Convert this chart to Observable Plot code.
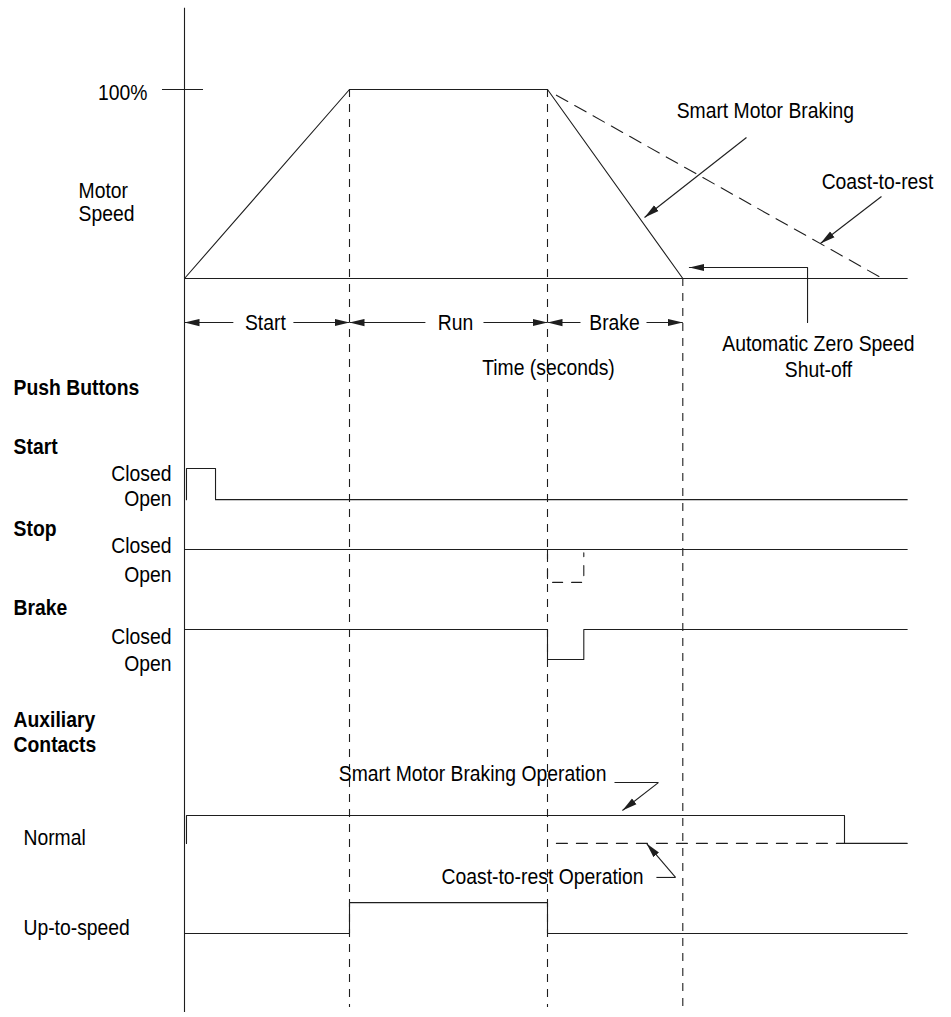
<!DOCTYPE html>
<html><head><meta charset="utf-8">
<script src="https://cdn.jsdelivr.net/npm/d3@7"></script>
<script src="https://cdn.jsdelivr.net/npm/@observablehq/plot@0.6"></script>
<style>
body{margin:0;background:#fff}
#chart svg text{font-family:"Liberation Sans",Arial,Helvetica,sans-serif}
</style></head><body><div id="chart"></div>
<script>
// ---------- DATA (time in "seconds", arbitrary units; speed in %) ----------
const phaseNames = ["Start", "Run", "Brake"];
const phaseBounds = [0, 5, 11, 15.1];     // start, up-to-speed, brake, zero speed
const tEnd = 21.9;

// Motor speed with Smart Motor Braking
const speedBraking = [{t: 0, v: 0}, {t: 5, v: 100}, {t: 11, v: 100}, {t: 15.1, v: 0}];
// Motor speed when coasting to rest
const speedCoast = [{t: 11.27, v: 97}, {t: 21.15, v: 0}];
const speedBase = [{t: 0, v: 0}, {t: tEnd, v: 0}];

// Push-button / contact states: 1 = closed (high), 0 = open (low)
const startButton   = [[0.06, 0], [0.06, 1], [0.94, 1], [0.94, 0], [tEnd, 0]];
const stopButton    = [[0, 1], [tEnd, 1]];
const stopButtonAlt = [[11, 1], [11, 0], [12.1, 0], [12.1, 0.9]];
const brakeButton   = [[0, 1], [11, 1], [11, 0], [12.1, 0], [12.1, 1], [tEnd, 1]];
const auxNormal     = [[0.06, 0], [0.06, 1], [20, 1], [20, 0], [tEnd, 0]];
const auxNormalCoast = [[11.27, 0], [20, 0]];
const auxUpToSpeed  = [[0, 0], [5, 0], [5, 1], [11, 1], [11, 0], [tEnd, 0]];

const tickLabel = "100%";
const stateLabels = ["Closed", "Open"];
const headings = ["Push Buttons", "Start", "Stop", "Brake", "Auxiliary\nContacts"];
const rowLabels = ["Normal", "Up-to-speed"];
const speedLabel = "Motor\nSpeed";

// ---------- LAYOUT (vertical lanes, in the y scale's units) ----------
const lanes = {
  start:  {lo: -117,  hi: -100.5},
  stop:   {lo: -160.8, hi: -143.4},
  brake:  {lo: -201.6, hi: -185.7},
  normal: {lo: -298.9, hi: -284.1},
  up:     {lo: -346.6, hi: -330.2}
};
const yTop = 143, yBottom = -388.4, yGuideBottom = -385.7, yPhase = -23.3;
const toPts = (arr, lane) => arr.map(([t, s]) => ({t, y: lane.lo + s * (lane.hi - lane.lo)}));

const ink = "#1e1e1e";
const SW = 1.1;
const lineOpt = {x: "t", y: "y", stroke: ink, strokeWidth: SW, curve: "linear"};

const headingPos = [-57.7, -88.9, -132.3, -174.1, -239.7];
const closedOpenPos = [[-103.2, -116.4], [-141.3, -156.6], [-189.4, -203.7]];
const rowLabelPos = [-295.8, -343.4];

const phaseLabels = phaseNames.map((n, i) => ({label: n, t: [2.45, 8.21, 13.03][i], y: yPhase}));
const phaseArrows = [
  {x1: 1.48, x2: phaseBounds[0]}, {x1: 3.3, x2: phaseBounds[1]},
  {x1: 7.3, x2: phaseBounds[1]}, {x1: 9.06, x2: phaseBounds[2]},
  {x1: 12.0, x2: phaseBounds[2]}, {x1: 14.0, x2: phaseBounds[3]}
].map(d => ({...d, y1: yPhase, y2: yPhase}));

const pointerArrows = [
  {x1: 17.03, y1: 74.6, x2: 13.94, y2: 32.3},     // Smart Motor Braking
  {x1: 21.12, y1: 43.4, x2: 19.27, y2: 18.5},     // Coast-to-rest
  {x1: 14.36, y1: -266.7, x2: 13.27, y2: -281.5}, // SMB operation
  {x1: 14.88, y1: -316.9, x2: 14.0, y2: -298.9}   // Coast operation
];
const leaderLines = [
  {x1: 13.03, y1: -266.7, x2: 14.36, y2: -266.7},
  {x1: 14.3, y1: -316.9, x2: 14.88, y2: -316.9}
];
const shutoffPath = [{t: 18.88, y: yPhase}, {t: 18.88, y: 5.8}, {t: 15.3, y: 5.8}];

const notes = [
  {label: "Smart Motor Braking", t: 17.6, y: 88.9},
  {label: "Coast-to-rest", t: 21.0, y: 51.3},
  {label: "Time (seconds)", t: 11.03, y: -47.1},
  {label: "Automatic Zero Speed", t: 19.21, y: -34.4},
  {label: "Shut-off", t: 19.21, y: -48.1},
  {label: "Smart Motor Braking Operation", t: 8.73, y: -261.9},
  {label: "Coast-to-rest Operation", t: 10.85, y: -316.4}
];

const FS = 22.5;
const txt = {fontSize: FS, fill: "#000"};

const plot = Plot.plot({
  width: 951, height: 1017, margin: 0,
  x: {domain: [0, 5], range: [184, 349], axis: null},
  y: {domain: [0, 100], range: [278, 89], axis: null},
  marks: [
    // vertical time axis and 100% tick
    Plot.ruleX([0], {y1: yTop, y2: yBottom, stroke: ink, strokeWidth: SW}),
    Plot.ruleY([100], {x1: -0.667, x2: 0.576, stroke: ink, strokeWidth: SW}),
    // phase guides
    Plot.ruleX(phaseBounds.slice(1), {x: d => d, y1: d => d === phaseBounds[3] ? 0 : 100, y2: yGuideBottom,
      stroke: ink, strokeWidth: SW, strokeDasharray: "8,7"}),
    // speed
    Plot.line(speedBase, {x: "t", y: "v", stroke: ink, strokeWidth: SW}),
    Plot.line(speedBraking, {x: "t", y: "v", stroke: ink, strokeWidth: SW}),
    Plot.line(speedCoast, {x: "t", y: "v", stroke: ink, strokeWidth: SW, strokeDasharray: "13,8"}),
    // signals
    Plot.line(toPts(startButton, lanes.start), lineOpt),
    Plot.line(toPts(stopButton, lanes.stop), lineOpt),
    Plot.line(toPts(stopButtonAlt, lanes.stop), {...lineOpt, strokeDasharray: "10,9"}),
    Plot.line(toPts(brakeButton, lanes.brake), lineOpt),
    Plot.line(toPts(auxNormal, lanes.normal), lineOpt),
    Plot.line(toPts(auxNormalCoast, lanes.normal), {...lineOpt, strokeDasharray: "11,9"}),
    Plot.line(toPts(auxUpToSpeed, lanes.up), lineOpt),
    // arrows
    Plot.link(phaseArrows, {x1: "x1", y1: "y1", x2: "x2", y2: "y2", stroke: ink, strokeWidth: SW, markerEnd: "arrow"}),
    Plot.link(pointerArrows, {x1: "x1", y1: "y1", x2: "x2", y2: "y2", stroke: ink, strokeWidth: SW, markerEnd: "arrow"}),
    Plot.link(leaderLines, {x1: "x1", y1: "y1", x2: "x2", y2: "y2", stroke: ink, strokeWidth: SW}),
    Plot.line(shutoffPath, {x: "t", y: "y", stroke: ink, strokeWidth: SW, markerEnd: "arrow"}),
    // texts
    Plot.text([tickLabel], {x: -1.12, y: 98.4, text: d => d, textAnchor: "end", ...txt}),
    Plot.text([speedLabel], {x: -3.21, y: 40.5, text: d => d, textAnchor: "start", lineHeight: 1.02, ...txt}),
    Plot.text(headings, {x: -5.18, y: (d, i) => headingPos[i], text: d => d, textAnchor: "start", fontWeight: "bold", lineHeight: 1.1, ...txt}),
    ...closedOpenPos.map(p => Plot.text(stateLabels, {x: -0.394, y: (d, i) => p[i], text: d => d, textAnchor: "end", ...txt})),
    Plot.text(rowLabels, {x: -4.88, y: (d, i) => rowLabelPos[i], text: d => d, textAnchor: "start", ...txt}),
    Plot.text(phaseLabels, {x: "t", y: "y", text: "label", ...txt}),
    Plot.text(notes, {x: "t", y: "y", text: "label", ...txt})
  ]
});

// filled arrowheads
plot.querySelectorAll("marker").forEach(m => {
  const color = m.getAttribute("stroke") || ink;
  m.setAttribute("viewBox", "-15 -4 16 8");
  m.setAttribute("markerWidth", 16);
  m.setAttribute("markerHeight", 8);
  m.setAttribute("markerUnits", "userSpaceOnUse");
  m.setAttribute("fill", color);
  m.setAttribute("stroke", "none");
  m.innerHTML = "";
  const p = document.createElementNS("http://www.w3.org/2000/svg", "path");
  p.setAttribute("d", "M-15,-3.6L0,0L-15,3.6Z");
  m.appendChild(p);
});

// condensed lettering (the reference uses a condensed grotesque)
plot.querySelectorAll("text").forEach(t => {
  const tr = t.getAttribute("transform");
  if (tr) {
    t.setAttribute("transform", tr + " scale(0.86,1)");
  } else {
    const x = +t.getAttribute("x") || 0, y = +t.getAttribute("y") || 0;
    t.removeAttribute("x"); t.removeAttribute("y");
    t.setAttribute("transform", `translate(${x},${y}) scale(0.86,1)`);
  }
});

document.getElementById("chart").appendChild(plot);
</script></body></html>
